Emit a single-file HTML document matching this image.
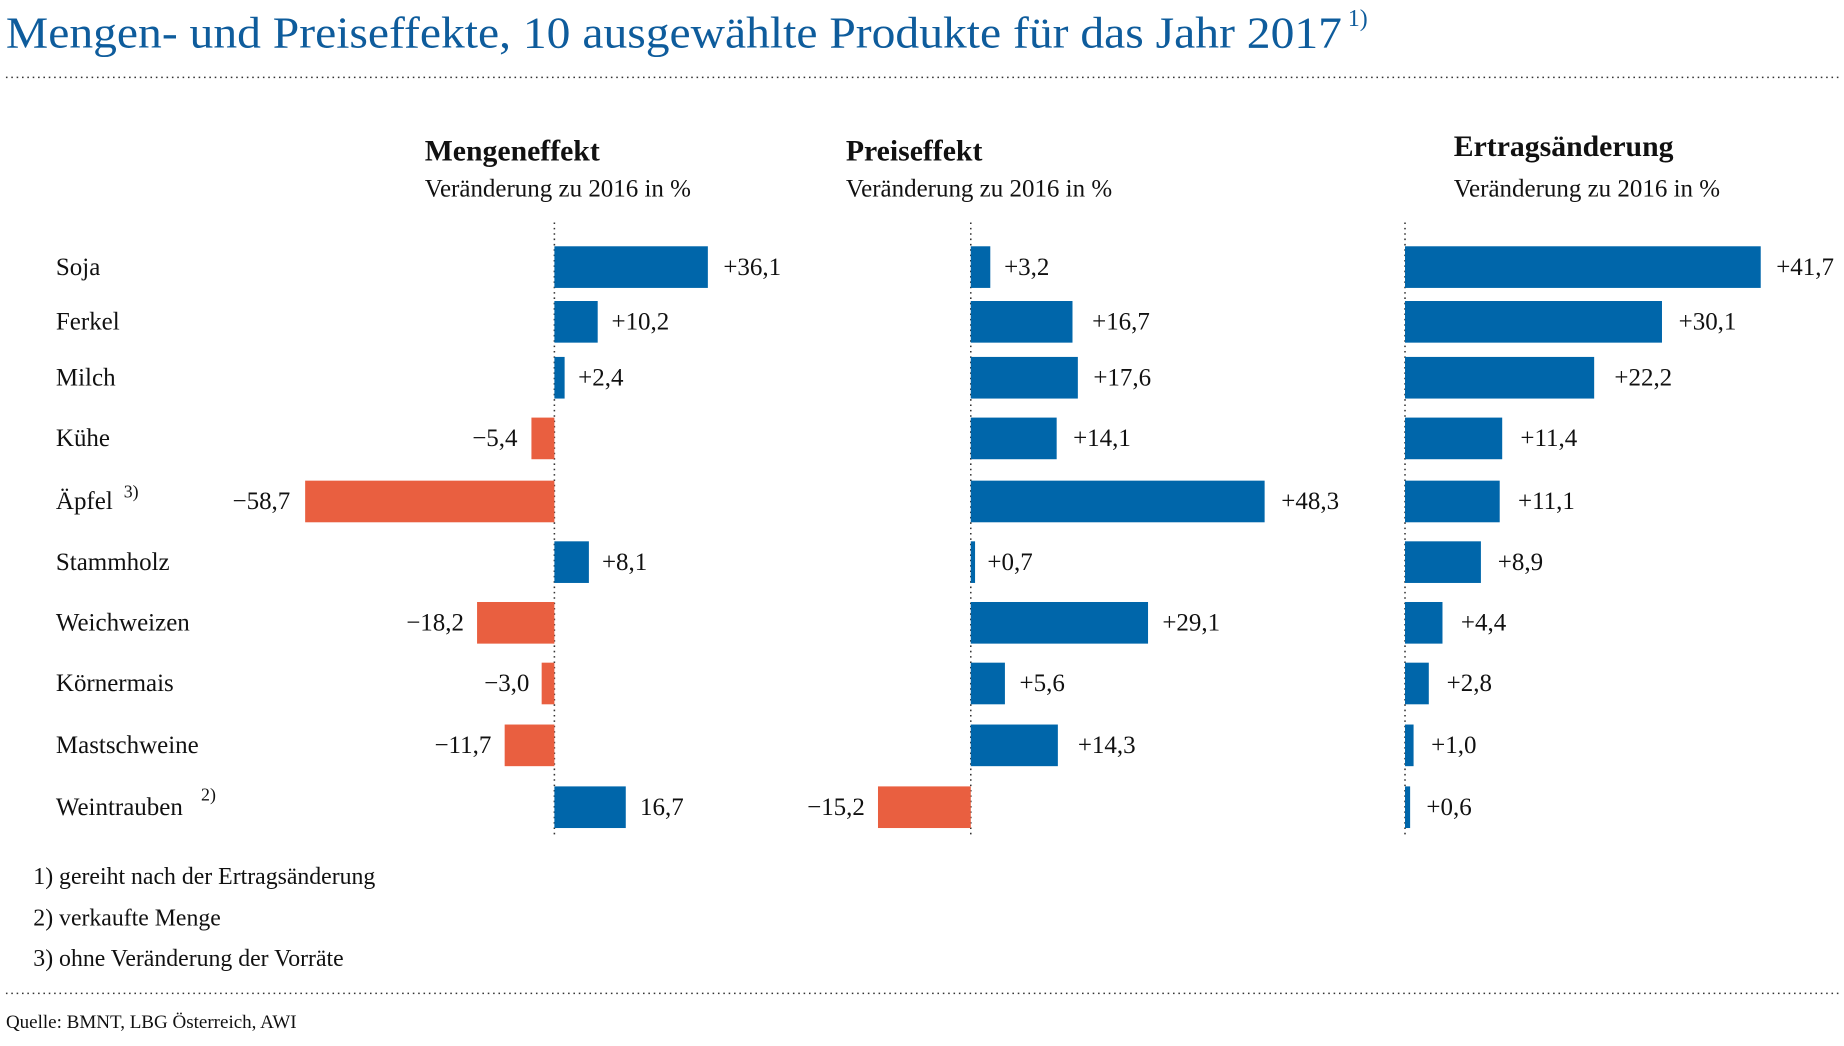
<!DOCTYPE html>
<html><head><meta charset="utf-8"><style>html,body{margin:0;padding:0;background:#fff}svg{display:block}</style></head>
<body>
<svg width="1844" height="1046" viewBox="0 0 1550 879.2" xmlns="http://www.w3.org/2000/svg" font-family="Liberation Serif, serif">
<text x="5" y="40" font-size="37" fill="#0e5c9c" textLength="1123" lengthAdjust="spacingAndGlyphs">Mengen- und Preiseffekte, 10 ausgewählte Produkte für das Jahr 2017</text>
<text x="1133" y="22" font-size="20" fill="#0e5c9c">1)</text>
<line x1="5" y1="65" x2="1548" y2="65" stroke="#333" stroke-width="1.3" stroke-dasharray="1.3,3.2"/>
<line x1="5" y1="835" x2="1548" y2="835" stroke="#333" stroke-width="1.3" stroke-dasharray="1.3,3.2"/>
<text x="5" y="864" font-size="16" fill="#111">Quelle: BMNT, LBG Österreich, AWI</text>

<g fill="#111">
<text x="357" y="135" font-size="25" font-weight="bold">Mengeneffekt</text>
<text x="357" y="165" font-size="21">Veränderung zu 2016 in %</text>
<text x="711" y="135" font-size="25" font-weight="bold">Preiseffekt</text>
<text x="711" y="165" font-size="21">Veränderung zu 2016 in %</text>
<text x="1222" y="131" font-size="25" font-weight="bold">Ertragsänderung</text>
<text x="1222" y="165" font-size="21">Veränderung zu 2016 in %</text>
</g>

<g stroke="#333" stroke-width="1.3" stroke-dasharray="1.3,3.2">
<line x1="466" y1="187" x2="466" y2="703"/>
<line x1="816" y1="187" x2="816" y2="703"/>
<line x1="1181" y1="187" x2="1181" y2="703"/>
</g>

<g font-size="21" fill="#111">
<text x="47" y="231">Soja</text>
<text x="47" y="277">Ferkel</text>
<text x="47" y="324">Milch</text>
<text x="47" y="375">Kühe</text>
<text x="47" y="428">Äpfel</text><text x="104" y="418" font-size="15">3)</text>
<text x="47" y="479">Stammholz</text>
<text x="47" y="530">Weichweizen</text>
<text x="47" y="581">Körnermais</text>
<text x="47" y="633">Mastschweine</text>
<text x="47" y="685">Weintrauben</text><text x="169" y="673" font-size="15">2)</text>
<text x="28" y="743" font-size="20">1) gereiht nach der Ertragsänderung</text>
<text x="28" y="778" font-size="20">2) verkaufte Menge</text>
<text x="28" y="812" font-size="20">3) ohne Veränderung der Vorräte</text>
</g>

<g id="bars" font-size="21" fill="#111">
<!-- Panel 1: zero 466, 3.57/unit -->
<rect x="466" y="207" width="129" height="35" fill="#0066aa"/><text x="608" y="231">+36,1</text>
<rect x="466" y="253" width="36.4" height="35" fill="#0066aa"/><text x="514" y="277">+10,2</text>
<rect x="466" y="300" width="8.6" height="35" fill="#0066aa"/><text x="486" y="324">+2,4</text>
<rect x="446.7" y="351" width="19.3" height="35" fill="#e95f40"/><text x="435" y="375" text-anchor="end">−5,4</text>
<rect x="256.5" y="404" width="209.5" height="35" fill="#e95f40"/><text x="244" y="428" text-anchor="end">−58,7</text>
<rect x="466" y="455" width="29" height="35" fill="#0066aa"/><text x="506" y="479">+8,1</text>
<rect x="401" y="506" width="65" height="35" fill="#e95f40"/><text x="390" y="530" text-anchor="end">−18,2</text>
<rect x="455.3" y="557" width="10.7" height="35" fill="#e95f40"/><text x="445" y="581" text-anchor="end">−3,0</text>
<rect x="424.2" y="609" width="41.8" height="35" fill="#e95f40"/><text x="413" y="633" text-anchor="end">−11,7</text>
<rect x="466" y="661" width="60" height="35" fill="#0066aa"/><text x="538" y="685">16,7</text>
<!-- Panel 2: zero 816, 5.12/unit -->
<rect x="816" y="207" width="16.4" height="35" fill="#0066aa"/><text x="844" y="231">+3,2</text>
<rect x="816" y="253" width="85.5" height="35" fill="#0066aa"/><text x="918" y="277">+16,7</text>
<rect x="816" y="300" width="90" height="35" fill="#0066aa"/><text x="919" y="324">+17,6</text>
<rect x="816" y="351" width="72.2" height="35" fill="#0066aa"/><text x="902" y="375">+14,1</text>
<rect x="816" y="404" width="247" height="35" fill="#0066aa"/><text x="1077" y="428">+48,3</text>
<rect x="816" y="455" width="3.6" height="35" fill="#0066aa"/><text x="830" y="479">+0,7</text>
<rect x="816" y="506" width="149" height="35" fill="#0066aa"/><text x="977" y="530">+29,1</text>
<rect x="816" y="557" width="28.7" height="35" fill="#0066aa"/><text x="857" y="581">+5,6</text>
<rect x="816" y="609" width="73.2" height="35" fill="#0066aa"/><text x="906" y="633">+14,3</text>
<rect x="738" y="661" width="78" height="35" fill="#e95f40"/><text x="727" y="685" text-anchor="end">−15,2</text>
<!-- Panel 3: zero 1181, 7.17/unit -->
<rect x="1181" y="207" width="299" height="35" fill="#0066aa"/><text x="1493" y="231">+41,7</text>
<rect x="1181" y="253" width="216" height="35" fill="#0066aa"/><text x="1411" y="277">+30,1</text>
<rect x="1181" y="300" width="159" height="35" fill="#0066aa"/><text x="1357" y="324">+22,2</text>
<rect x="1181" y="351" width="81.7" height="35" fill="#0066aa"/><text x="1278" y="375">+11,4</text>
<rect x="1181" y="404" width="79.6" height="35" fill="#0066aa"/><text x="1276" y="428">+11,1</text>
<rect x="1181" y="455" width="63.8" height="35" fill="#0066aa"/><text x="1259" y="479">+8,9</text>
<rect x="1181" y="506" width="31.5" height="35" fill="#0066aa"/><text x="1228" y="530">+4,4</text>
<rect x="1181" y="557" width="20" height="35" fill="#0066aa"/><text x="1216" y="581">+2,8</text>
<rect x="1181" y="609" width="7.2" height="35" fill="#0066aa"/><text x="1203" y="633">+1,0</text>
<rect x="1181" y="661" width="4.3" height="35" fill="#0066aa"/><text x="1199" y="685">+0,6</text>
</g>
</svg>
</body></html>
